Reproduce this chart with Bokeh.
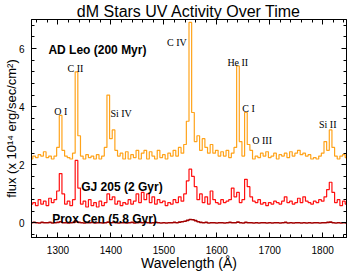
from bokeh.plotting import figure
from bokeh.models import LinearAxis, Range1d, CustomJSTickFormatter, FixedTicker
from bokeh.core.properties import value
from bokeh.embed import file_html
from bokeh.resources import INLINE

# ---------------- data ----------------
wavelength = list(range(1250, 1850, 5))

ad_leo = [
    2.20, 2.30, 2.25, 2.35, 2.30, 2.45, 2.25, 2.30, 2.20, 2.30,   # 1250-1295
    2.60, 3.70, 2.50, 2.30, 2.25, 2.20, 2.40, 5.20, 3.00, 2.30,   # 1300-1345
    2.20, 2.35, 2.25, 2.30, 2.20, 2.35, 2.20, 2.30, 2.60, 4.40,   # 1350-1395
    2.90, 3.20, 2.50, 2.30, 2.40, 2.20, 2.45, 2.20, 2.35, 2.25,   # 1400-1445
    2.50, 2.20, 2.40, 2.50, 2.20, 2.45, 2.30, 2.20, 2.50, 2.25,   # 1450-1495
    2.35, 2.20, 2.40, 2.30, 2.50, 2.30, 2.60, 2.40, 2.70, 3.50,   # 1500-1545
    6.90, 3.80, 2.80, 3.00, 2.50, 2.90, 2.60, 2.40, 2.70, 2.40,   # 1550-1595
    2.50, 2.30, 2.45, 2.30, 2.50, 2.25, 2.40, 2.60, 5.40, 2.80,   # 1600-1645
    2.30, 3.80, 2.70, 2.50, 2.20, 2.30, 2.25, 2.40, 2.30, 2.45,   # 1650-1695
    2.25, 2.30, 2.40, 2.20, 2.35, 2.30, 2.40, 2.25, 2.45, 2.30,   # 1700-1745
    2.40, 2.50, 2.35, 2.40, 2.30, 2.35, 2.20, 2.25, 2.20, 2.30,   # 1750-1795
    2.40, 2.80, 2.50, 3.20, 2.60, 2.30, 2.20, 2.30, 2.35, 2.25,   # 1800-1845
]

gj_205 = [
    0.65, 0.70, 0.60, 0.80, 0.65, 0.75, 0.60, 0.85, 0.70, 0.80,   # 1250-1295
    1.10, 1.70, 1.00, 0.65, 0.75, 0.60, 0.80, 2.15, 1.20, 0.65,   # 1300-1345
    0.75, 0.55, 0.80, 0.60, 0.70, 0.55, 0.75, 0.60, 0.70, 1.00,   # 1350-1395
    0.80, 0.90, 0.65, 0.75, 0.60, 0.70, 0.65, 0.80, 0.65, 0.75,   # 1400-1445
    1.00, 0.70, 1.05, 0.80, 1.00, 0.70, 0.90, 0.65, 0.80, 0.70,   # 1450-1495
    0.75, 0.60, 0.70, 0.65, 0.80, 0.70, 0.90, 0.75, 1.00, 1.45,   # 1500-1545
    1.85, 1.60, 1.25, 0.80, 1.00, 0.70, 0.90, 0.65, 1.10, 0.80,   # 1550-1595
    0.70, 0.65, 0.80, 0.70, 0.75, 0.80, 1.20, 0.90, 1.05, 0.70,   # 1600-1645
    0.80, 1.50, 1.25, 0.90, 0.75, 0.70, 0.80, 0.65, 0.70, 0.60,   # 1650-1695
    0.70, 0.65, 0.75, 0.70, 0.65, 0.75, 0.90, 0.70, 0.75, 0.65,   # 1700-1745
    0.70, 0.85, 0.70, 0.90, 0.75, 0.70, 0.65, 0.75, 0.70, 0.80,   # 1750-1795
    0.75, 0.90, 1.15, 1.40, 1.05, 0.70, 0.80, 0.60, 0.75, 0.65,   # 1800-1845
]

prox_cen = [
    0.01, 0.02, 0.01, 0.00, 0.02, 0.01, 0.01, 0.02, 0.00, 0.01,   # 1250-1295
    0.02, 0.04, 0.01, 0.01, 0.00, 0.01, 0.02, 0.05, 0.02, 0.01,   # 1300-1345
    0.00, 0.01, 0.01, 0.02, 0.00, 0.01, 0.01, 0.00, 0.01, 0.03,   # 1350-1395
    0.01, 0.02, 0.01, 0.00, 0.01, 0.01, 0.00, 0.01, 0.02, 0.00,   # 1400-1445
    0.01, 0.02, 0.01, 0.03, 0.01, 0.00, 0.01, 0.02, 0.01, 0.00,   # 1450-1495
    0.01, 0.00, 0.01, 0.01, 0.02, 0.01, 0.03, 0.04, 0.06, 0.09,   # 1500-1545
    0.12, 0.11, 0.08, 0.04, 0.02, 0.01, 0.02, 0.00, 0.01, 0.01,   # 1550-1595
    0.00, 0.01, 0.01, 0.00, 0.01, 0.02, 0.01, 0.01, 0.03, 0.01,   # 1600-1645
    0.00, 0.02, 0.01, 0.01, 0.00, 0.01, 0.00, 0.01, 0.01, 0.00,   # 1650-1695
    0.01, 0.00, 0.01, 0.01, 0.00, 0.01, 0.02, 0.00, 0.01, 0.00,   # 1700-1745
    0.01, 0.01, 0.00, 0.01, 0.00, 0.01, 0.00, 0.01, 0.01, 0.00,   # 1750-1795
    0.01, 0.01, 0.02, 0.03, 0.01, 0.00, 0.01, 0.00, 0.01, 0.00,   # 1800-1845
]

x_ticks = [1300, 1400, 1500, 1600, 1700, 1800]
y_ticks = [0, 2, 4, 6]

star_names = ["AD Leo (200 Myr)", "GJ 205 (2 Gyr)", "Prox Cen (5.8 Gyr)"]
line_names = ["O I", "C II", "Si IV", "C IV", "He II", "C I", "O III", "Si II"]

# ---------------- label placement ----------------
star_label_x = [1282, 1344, 1289]
star_label_y = [5.95, 1.25, 0.15]
line_label_x = [1293, 1318, 1399, 1506, 1620, 1648, 1667, 1793]
line_label_y = [3.83, 5.31, 3.76, 6.22, 5.51, 3.93, 2.82, 3.39]

ORANGE = "#FFA31A"
RED = "#FF1010"
DARKRED = "#A00000"
SANS = "Liberation Sans"
SERIF = "Liberation Serif"

p = figure(width=349, height=273, output_backend="svg", toolbar_location=None,
           x_range=Range1d(1250, 1845), y_range=Range1d(-0.5, 7.0),
           title="dM Stars UV Activity Over Time",
           min_border_left=0, min_border_right=3, min_border_top=0, min_border_bottom=0)

p.title.text_font = SANS
p.title.text_font_size = "16px"
p.title.text_font_style = "normal"
p.title.text_color = "black"
p.title.align = "center"
p.title.standoff = 0
p.title.offset = 0

p.xgrid.visible = False
p.ygrid.visible = False
p.outline_line_color = "black"
p.outline_line_width = 1
p.background_fill_color = "white"
p.border_fill_color = "white"

def style_axis(ax, label_size="10px"):
    ax.axis_line_color = "black"
    ax.major_tick_line_color = "black"
    ax.minor_tick_line_color = "black"
    ax.major_tick_in = 5
    ax.major_tick_out = 0
    ax.minor_tick_in = 3
    ax.minor_tick_out = 0
    ax.major_label_text_font = SANS
    ax.major_label_text_font_size = label_size
    ax.major_label_text_color = "black"
    ax.axis_label_text_font = SANS
    ax.axis_label_text_font_style = "normal"
    ax.axis_label_text_color = "black"

x_minor = list(range(1260, 1850, 20))
y_minor = [-0.4 + 0.4 * i for i in range(19)]

xa = p.xaxis[0]
style_axis(xa)
xa.ticker = FixedTicker(ticks=x_ticks, minor_ticks=x_minor)
xa.axis_label = "Wavelength (Å)"
xa.axis_label_text_font_size = "14px"
xa.axis_label_standoff = -2
xa.major_label_standoff = 8

ya = p.yaxis[0]
style_axis(ya)
ya.ticker = FixedTicker(ticks=y_ticks, minor_ticks=y_minor)
ya.axis_label = "flux (x 10¹⁴ erg/sec/cm²)"
ya.axis_label_text_font_size = "13px"
ya.axis_label_standoff = -3
ya.major_label_standoff = 7

blank = CustomJSTickFormatter(code="return ''")
top = LinearAxis(ticker=FixedTicker(ticks=x_ticks, minor_ticks=x_minor),
                 formatter=blank, major_label_standoff=0)
style_axis(top)
p.add_layout(top, "above")
right = LinearAxis(ticker=FixedTicker(ticks=y_ticks, minor_ticks=y_minor),
                   formatter=blank, major_label_standoff=0)
style_axis(right)
p.add_layout(right, "right")

p.step(wavelength, prox_cen, mode="center", line_color=DARKRED, line_width=1.6)
p.step(wavelength, gj_205, mode="center", line_color=RED, line_width=1.2)
p.step(wavelength, ad_leo, mode="center", line_color=ORANGE, line_width=1.2)

p.text(x=star_label_x, y=star_label_y, text=star_names,
       text_font=value(SANS), text_font_style="bold", text_font_size="12px",
       text_color="black", text_align="left", text_baseline="alphabetic")
p.text(x=line_label_x, y=line_label_y, text=line_names,
       text_font=value(SERIF), text_font_size="10px",
       text_color="black", text_align="left", text_baseline="alphabetic")

open("out.html", "w").write(file_html(p, INLINE))
